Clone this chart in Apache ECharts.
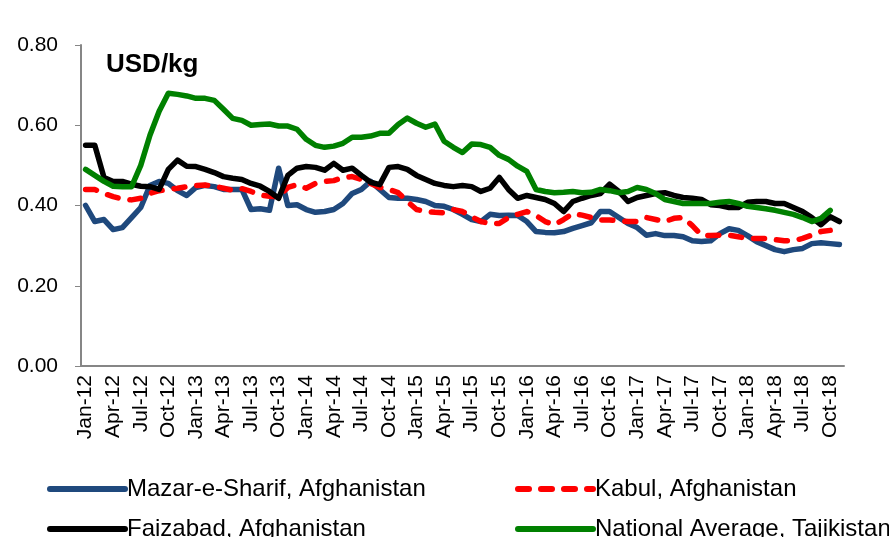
<!DOCTYPE html>
<html style="height: 100%">
<head>
  <meta charset="UTF-8">
  <title>USD/kg</title>
  <script src="https://cdn.jsdelivr.net/npm/echarts@6/dist/echarts.min.js"></script>
  <style>
    html, body {
      margin: 0;
      height: 100%;
      width: 100%;
      background: #fff;
    }
    #chart {
      width: 889px;
      height: 537px;
    }
  </style>
</head>
<body>
  <div id="chart"></div>
  <script>
    // months Jan-12 .. Nov-18
    const monthNames = ['Jan', 'Feb', 'Mar', 'Apr', 'May', 'Jun', 'Jul', 'Aug', 'Sep', 'Oct', 'Nov', 'Dec'];
    const years = ['12', '13', '14', '15', '16', '17', '18'];
    const months = [];
    years.forEach(y => monthNames.forEach(m => months.push(m + '-' + y)));
    months.splice(83);

    const mazar = [
      0.40, 0.36, 0.365, 0.34, 0.345, 0.37, 0.395, 0.45, 0.46, 0.455, 0.437, 0.425,
      0.445, 0.45, 0.447, 0.44, 0.44, 0.44, 0.39, 0.392, 0.388, 0.493, 0.40, 0.402,
      0.39, 0.383, 0.385, 0.39, 0.405, 0.43, 0.44, 0.46, 0.44, 0.42, 0.418, 0.418,
      0.415, 0.41, 0.40, 0.398, 0.39, 0.378, 0.365, 0.36, 0.378, 0.375, 0.376, 0.375,
      0.36, 0.335, 0.333, 0.332, 0.335, 0.343, 0.35, 0.357, 0.385, 0.385, 0.37, 0.355,
      0.345, 0.326, 0.33, 0.325, 0.325, 0.322, 0.312, 0.31, 0.312, 0.33, 0.342, 0.338,
      0.325, 0.31, 0.30, 0.29, 0.285, 0.29, 0.293, 0.305, 0.307, 0.305, 0.303
    ];
    const kabul = [
      0.44, 0.44, 0.43, 0.422, 0.416, 0.414, 0.418, 0.43, 0.437, 0.44, 0.443, 0.447,
      0.45, 0.451, 0.448, 0.443, 0.438, 0.442, 0.435, 0.426, 0.423, 0.422, 0.445, 0.452,
      0.443, 0.455, 0.46, 0.462, 0.47, 0.472, 0.465, 0.455, 0.445, 0.44, 0.432, 0.41,
      0.39, 0.385, 0.383, 0.382, 0.39, 0.385, 0.372, 0.36, 0.355, 0.355, 0.37, 0.378,
      0.385, 0.375, 0.36, 0.352, 0.365, 0.38, 0.376, 0.37, 0.364, 0.364, 0.362, 0.36,
      0.36, 0.37, 0.365, 0.36, 0.368, 0.37, 0.35, 0.326, 0.325, 0.326, 0.326, 0.322,
      0.318, 0.318, 0.318, 0.315, 0.312, 0.312, 0.318, 0.326, 0.335, 0.338, null
    ];
    const faizabad = [
      0.55, 0.55, 0.47, 0.46, 0.46, 0.453, 0.448, 0.447, 0.44, 0.49, 0.513, 0.498,
      0.497, 0.49, 0.482, 0.472, 0.468, 0.465, 0.455, 0.448, 0.435, 0.418, 0.475, 0.493,
      0.497, 0.495, 0.488, 0.505, 0.488, 0.493, 0.475, 0.458, 0.452, 0.495, 0.497, 0.49,
      0.475, 0.465, 0.455, 0.45, 0.447, 0.45, 0.447, 0.435, 0.443, 0.47, 0.44, 0.418,
      0.425, 0.42, 0.415, 0.405, 0.385, 0.41, 0.418, 0.425, 0.43, 0.453, 0.435, 0.41,
      0.42, 0.425, 0.43, 0.432, 0.425, 0.42, 0.418, 0.415, 0.402, 0.40, 0.395, 0.395,
      0.408, 0.41, 0.41, 0.405, 0.405, 0.395, 0.385, 0.37, 0.352, 0.372, 0.36
    ];
    const tajikistan = [
      0.49, 0.475, 0.46, 0.448, 0.447, 0.447, 0.50, 0.575, 0.635, 0.68, 0.677, 0.673,
      0.667, 0.667, 0.662, 0.64, 0.617, 0.612, 0.60, 0.602, 0.603, 0.598, 0.598, 0.59,
      0.565, 0.55, 0.545, 0.548, 0.555, 0.57, 0.57, 0.573, 0.58, 0.58, 0.602, 0.618,
      0.605, 0.595, 0.603, 0.56, 0.545, 0.532, 0.553, 0.552, 0.545, 0.525, 0.515, 0.498,
      0.485, 0.44, 0.435, 0.432, 0.433, 0.435, 0.432, 0.433, 0.44, 0.437, 0.432, 0.435,
      0.445, 0.44, 0.43, 0.415, 0.41, 0.405, 0.405, 0.405, 0.405, 0.408, 0.41, 0.405,
      0.398, 0.395, 0.392, 0.388, 0.383, 0.378, 0.37, 0.36, 0.368, 0.388, null
    ];

    const seriesNames = [
      'Mazar-e-Sharif, Afghanistan',
      'Kabul, Afghanistan',
      'Faizabad, Afghanistan',
      'National Average, Tajikistan'
    ];
    const colors = ['#1f497d', '#ff0000', '#000000', '#008000'];
    const font = 'Liberation Sans, sans-serif';

    const chart = echarts.init(document.getElementById('chart'));

    function lineSeries(name, data, color, dashed) {
      return {
        name: name,
        type: 'line',
        data: data,
        symbol: 'none',
        color: color,
        lineStyle: {
          width: 5.5,
          color: color,
          type: dashed ? [11, 12] : 'solid',
          cap: 'round',
          join: 'round'
        }
      };
    }

    function legendAt(name, left, top) {
      return {
        data: [name],
        left: left,
        top: top,
        padding: 0,
        itemWidth: 75,
        itemHeight: 14,
        itemStyle: { opacity: 0 },
        lineStyle: { width: 6, cap: 'round' },
        textStyle: { fontFamily: font, fontSize: 24, color: '#000', padding: [0, 0, 0, -3] }
      };
    }

    chart.setOption({
      animation: false,
      title: {
        text: 'USD/kg',
        left: 106,
        top: 52,
        padding: 0,
        textStyle: { fontFamily: font, fontSize: 26, fontWeight: 'bold', color: '#000' }
      },
      legend: [
        legendAt(seriesNames[0], 47, 477),
        legendAt(seriesNames[1], 515, 477),
        legendAt(seriesNames[2], 47, 517),
        legendAt(seriesNames[3], 515, 517)
      ],
      grid: {
        left: 81,
        right: 45,
        top: 45,
        bottom: 171
      },
      xAxis: {
        type: 'category',
        data: months,
        boundaryGap: true,
        axisLine: { lineStyle: { color: '#868686', width: 2 } },
        axisTick: { interval: 0, length: 5, lineStyle: { color: '#868686' } },
        axisLabel: {
          interval: 2,
          rotate: 90,
          margin: 9,
          fontFamily: font,
          fontSize: 21,
          color: '#000'
        },
        splitLine: { show: false }
      },
      yAxis: {
        type: 'value',
        min: 0,
        max: 0.8,
        interval: 0.2,
        axisLine: { show: true, lineStyle: { color: '#868686', width: 2 } },
        axisTick: { show: true, length: 6, lineStyle: { color: '#868686' } },
        axisLabel: {
          margin: 23,
          fontFamily: font,
          fontSize: 21,
          color: '#000',
          formatter: v => v.toFixed(2)
        },
        splitLine: { show: false }
      },
      series: [
        lineSeries(seriesNames[0], mazar, colors[0], false),
        lineSeries(seriesNames[1], kabul, colors[1], true),
        lineSeries(seriesNames[2], faizabad, colors[2], false),
        lineSeries(seriesNames[3], tajikistan, colors[3], false)
      ]
    });
  </script>
</body>
</html>
